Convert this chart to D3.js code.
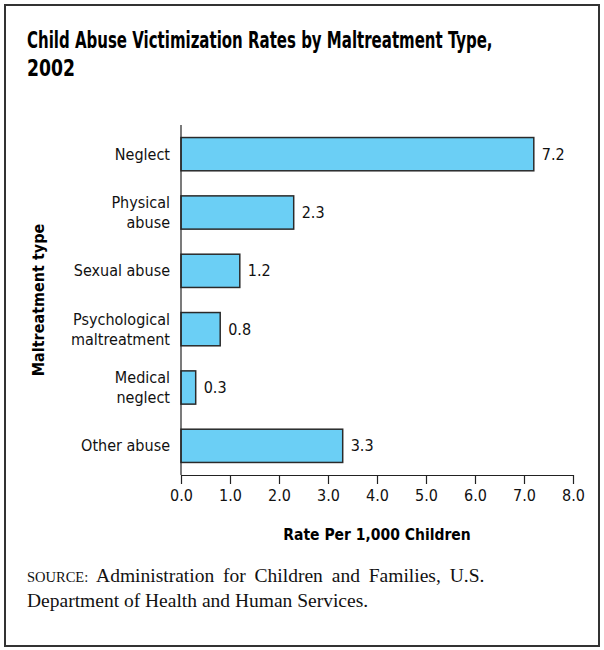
<!DOCTYPE html>
<meta charset="utf-8">
<style>
html, body {
    margin: 0;
    background: white;
}
.cond {
    font-family: "Liberation Sans Narrow", "Arial Narrow", "DejaVu Sans Condensed", sans-serif;
}
.axis path, .axis line {
    stroke: #222;
    stroke-width: 1.2px;
}
.axis text {
    font-family: "Liberation Sans Narrow", "Arial Narrow", "DejaVu Sans Condensed", sans-serif;
    font-size: 16px;
    fill: #111;
}
.source {
    font-family: "Liberation Serif", "Times New Roman", serif;
    font-size: 19.5px;
    fill: #111;
}
</style>
<body>
<script src="https://cdn.jsdelivr.net/npm/d3@7"></script>
<script>

var width = 604,
    height = 650;

// values
var categories = ["Neglect", "Physical abuse", "Sexual abuse", "Psychological maltreatment", "Medical neglect", "Other abuse"];
var labelLines = [["Neglect"], ["Physical", "abuse"], ["Sexual abuse"], ["Psychological", "maltreatment"], ["Medical", "neglect"], ["Other abuse"]];
var rates = [7.2, 2.3, 1.2, 0.8, 0.3, 3.3];
var xTicks = [0, 1, 2, 3, 4, 5, 6, 7, 8];

var margin = {left: 181, right: 31, top: 125, bottom: 175};

var svg = d3.select("body").append("svg")
    .attr("width", width)
    .attr("height", height);

// frame
svg.append("rect")
    .attr("x", 5)
    .attr("y", 5)
    .attr("width", 594)
    .attr("height", 641)
    .attr("fill", "none")
    .attr("stroke", "#333")
    .attr("stroke-width", 2);

// title: heavy face squeezed sideways to the width seen in the picture
function squeezed(txt, tx, ty, w) {
    var t = svg.append("text")
        .attr("class", "cond")
        .attr("font-size", "23.5px")
        .attr("font-weight", "bold")
        .attr("fill", "#000")
        .text(txt);
    var sx = w / t.node().getComputedTextLength();
    t.attr("transform", "translate(" + tx + "," + ty + ") scale(" + sx + ",1)");
}
squeezed("Child Abuse Victimization Rates by Maltreatment Type,", 27, 48, 466);
squeezed("2002", 27, 76, 48);

var x = d3.scaleLinear()
    .domain([0, 8])
    .range([margin.left, width - margin.right]);

var y = d3.scaleBand()
    .domain(categories)
    .range([margin.top, height - margin.bottom])
    .paddingInner(0.43)
    .paddingOuter(0.215);

// bars
svg.append("g")
    .selectAll("rect")
    .data(rates)
    .enter().append("rect")
    .attr("x", x(0))
    .attr("y", (d, i) => y(categories[i]))
    .attr("width", d => x(d) - x(0))
    .attr("height", y.bandwidth())
    .attr("fill", "#6bcff5")
    .attr("stroke", "#2a2a2a")
    .attr("stroke-width", 1.5);

// value labels
svg.append("g")
    .selectAll("text")
    .data(rates)
    .enter().append("text")
    .attr("class", "cond")
    .attr("x", d => x(d) + 8)
    .attr("y", (d, i) => y(categories[i]) + y.bandwidth() / 2)
    .attr("dy", "0.35em")
    .attr("font-size", "16px")
    .attr("fill", "#111")
    .text(d => d3.format(".1f")(d));

// category labels
var cat = svg.append("g")
    .selectAll("text")
    .data(labelLines)
    .enter().append("text")
    .attr("class", "cond")
    .attr("text-anchor", "end")
    .attr("font-size", "16px")
    .attr("fill", "#111")
    .attr("y", (d, i) => y(categories[i]) + y.bandwidth() / 2 - (d.length - 1) * 10);
cat.selectAll("tspan")
    .data(d => d)
    .enter().append("tspan")
    .attr("x", 170)
    .attr("dy", (d, i) => i === 0 ? "0.35em" : "20")
    .text(d => d);

// axes
svg.append("g")
    .attr("class", "axis")
    .attr("transform", "translate(0," + (height - margin.bottom) + ")")
    .call(d3.axisBottom(x).tickValues(xTicks).tickFormat(d3.format(".1f")).tickSize(9).tickSizeOuter(0).tickPadding(6));

svg.append("line")
    .attr("x1", x(0))
    .attr("x2", x(0))
    .attr("y1", margin.top)
    .attr("y2", height - margin.bottom)
    .attr("stroke", "#222")
    .attr("stroke-width", 1.2);

// axis titles
svg.append("text")
    .attr("class", "cond")
    .attr("x", (x(0) + x(8)) / 2)
    .attr("y", 540)
    .attr("text-anchor", "middle")
    .attr("font-size", "15.5px")
    .attr("font-weight", "bold")
    .text("Rate Per 1,000 Children");

svg.append("text")
    .attr("class", "cond")
    .attr("transform", "translate(44,300) rotate(-90)")
    .attr("text-anchor", "middle")
    .attr("font-size", "16px")
    .attr("font-weight", "bold")
    .text("Maltreatment type");

// source
var src = svg.append("text")
    .attr("class", "source")
    .attr("x", 27)
    .attr("y", 582);
src.append("tspan").attr("font-size", "14.5px").text("SOURCE:");
src.append("tspan").attr("word-spacing", "4px").text(" Administration for Children and Families, U.S.");
svg.append("text")
    .attr("class", "source")
    .attr("x", 27)
    .attr("y", 607)
    .text("Department of Health and Human Services.");

</script>
